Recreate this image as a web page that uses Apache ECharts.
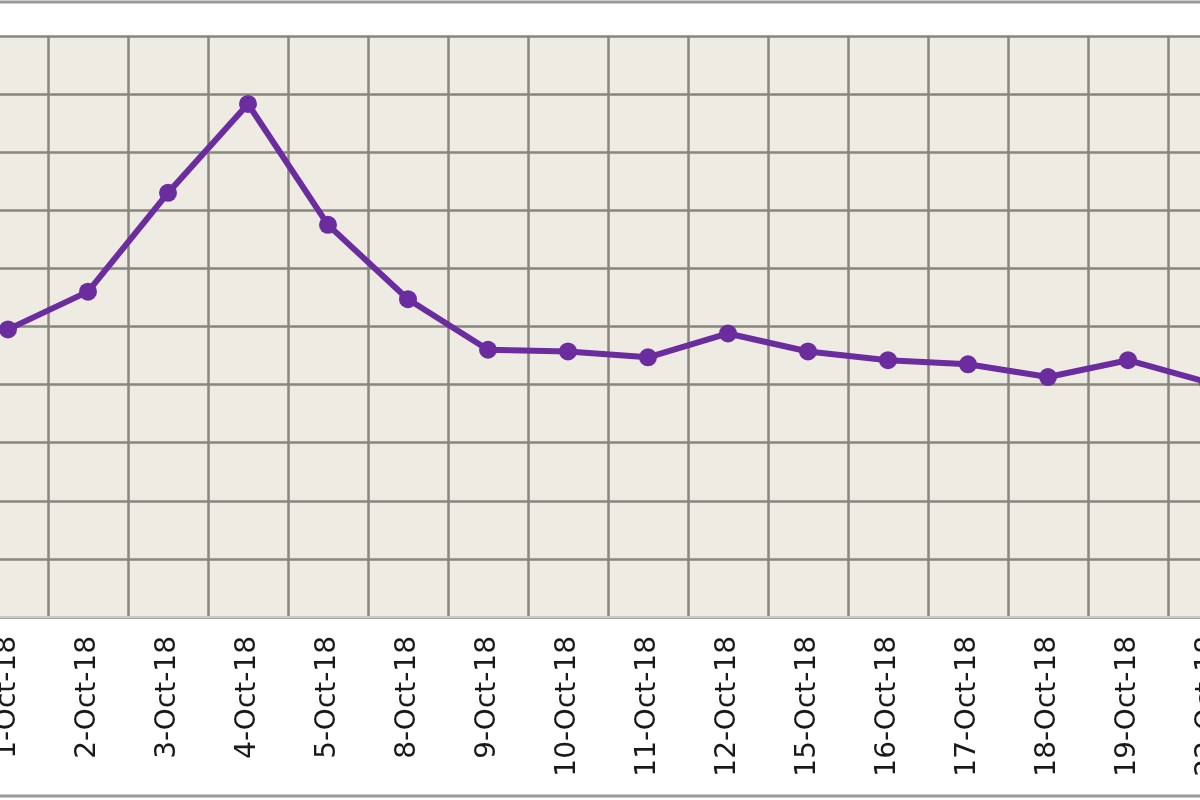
<!DOCTYPE html>
<html>
<head>
<meta charset="utf-8">
<style>
html,body{margin:0;padding:0;background:#fff;overflow:hidden;width:1200px;height:800px;position:relative;}
#chart{position:absolute;left:-32px;top:0;width:1280px;height:800px;}
</style>
<script src="https://cdn.jsdelivr.net/npm/echarts@6/dist/echarts.min.js"></script>
</head>
<body>
<div id="chart"></div>
<script>
const categories = ['1-Oct-18','2-Oct-18','3-Oct-18','4-Oct-18','5-Oct-18','8-Oct-18','9-Oct-18','10-Oct-18','11-Oct-18','12-Oct-18','15-Oct-18','16-Oct-18','17-Oct-18','18-Oct-18','19-Oct-18','22-Oct-18'];
const values = [4.95, 5.60, 7.30, 8.83, 6.75, 5.47, 4.60, 4.57, 4.47, 4.88, 4.57, 4.42, 4.35, 4.13, 4.42, 4.04];

const chart = echarts.init(document.getElementById('chart'), null, {renderer:'canvas'});
chart.setOption({
  backgroundColor: '#ffffff',
  animation: false,
  graphic: [{
    type: 'rect',
    shape: {x: 20, y: 2, width: 1250, height: 794},
    style: {fill: 'none', stroke: '#9a9a9a', lineWidth: 3},
    silent: true,
    z: 100
  }],
  grid: {
    left: 0, right: 0, top: 36, bottom: 183,
    show: true, backgroundColor: '#eeebe2', borderWidth: 0,
    containLabel: false
  },
  xAxis: {
    type: 'category',
    data: categories,
    boundaryGap: true,
    axisLine: {show: true, lineStyle: {color: '#c8c8c8', width: 2}},
    axisTick: {show: false},
    splitLine: {show: true, lineStyle: {color: '#87877f', width: 2.5}},
    axisLabel: {
      rotate: 90, interval: 0, margin: 19,
      fontFamily: 'DejaVu Sans', fontSize: 28, color: '#1a1a1a'
    }
  },
  yAxis: {
    type: 'value', min: 0, max: 10, interval: 1,
    axisLine: {show: false}, axisTick: {show: false},
    axisLabel: {show: false},
    splitLine: {show: true, lineStyle: {color: '#87877f', width: 2.5}}
  },
  series: [{
    type: 'line',
    data: values,
    symbol: 'circle',
    symbolSize: 18,
    lineStyle: {color: '#6a2c9e', width: 6},
    itemStyle: {color: '#6a2c9e'},
    z: 10
  }]
});
</script>
</body>
</html>
